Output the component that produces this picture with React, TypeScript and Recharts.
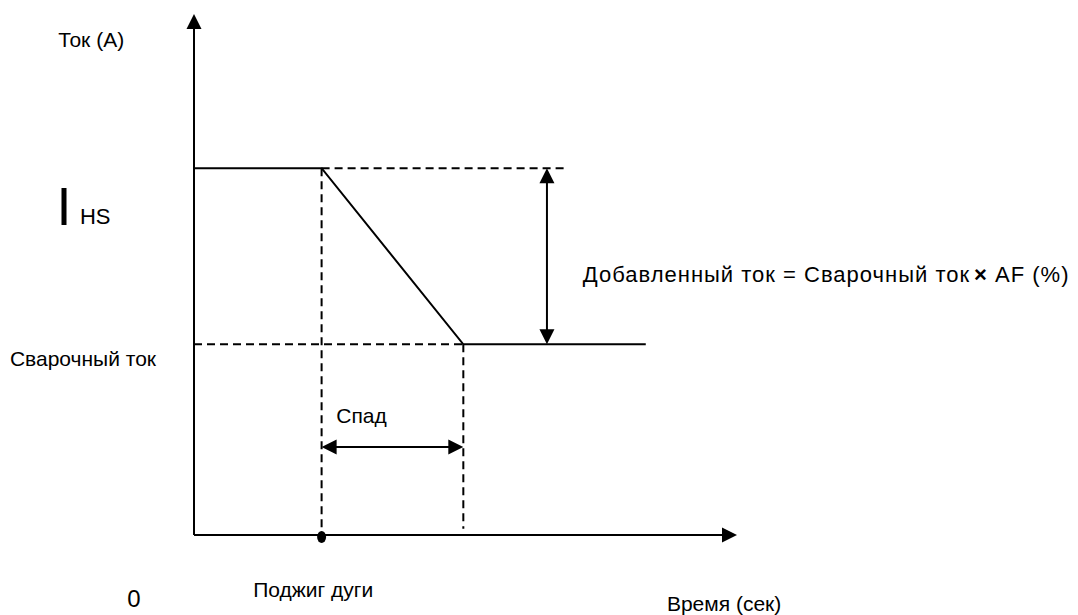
import { LineChart, Line, XAxis, YAxis, ReferenceLine, ReferenceDot } from "recharts";

// time axis and current axis both run 0..100 (arrow tips at 100)
const profileTime = [0, 23.5, 49.6, 83.2];
const profileCurrent = [70.4, 70.4, 36.6, 36.6];

const hotStart = 70.4;
const weldCurrent = 36.6;
const ignition = 23.5;
const slopeEnd = 49.6;
const hotStartGuideEnd = 68.1;
const addedArrowTime = 65.0;
const slopeArrowCurrent = 16.9;
const slopeGuideBottom = 1.2;

type Label = { text: string; t: number; c: number; size: number };

const labels: Label[] = [
  { text: "Ток (A)", t: -25.0, c: 93.7, size: 21 },
  { text: "I", t: -25.3, c: 59.5, size: 54 },
  { text: "HS", t: -21.0, c: 59.7, size: 22 },
  { text: "Сварочный ток", t: -33.9, c: 32.4, size: 21 },
  { text: "Спад", t: 26.2, c: 21.5, size: 21 },
  { text: "Поджиг дуги", t: 10.9, c: -11.9, size: 21 },
  { text: "0", t: -12.3, c: -13.8, size: 24 },
  { text: "Время (сек)", t: 87.1, c: -14.6, size: 21 },
];

const formulaLeft = "Добавленный ток = Сварочный ток";
const formulaSign = "×";
const formulaRight = " AF (%)";
const formulaAt = { t: 71.6, c: 48.6 };

const FONT = "'Liberation Sans', Arial, sans-serif";

const data = profileTime.map((t, i) => ({ t, c: profileCurrent[i] }));

function arrowShape(startHead: boolean, endHead: boolean) {
  return (props: any) => {
    const { x1, y1, x2, y2 } = props;
    const len = Math.hypot(x2 - x1, y2 - y1) || 1;
    const ux = (x2 - x1) / len;
    const uy = (y2 - y1) / len;
    const head = (tx: number, ty: number, dx: number, dy: number) => {
      const bx = tx - dx * 15;
      const by = ty - dy * 15;
      const px = -dy * 7.5;
      const py = dx * 7.5;
      return `${tx},${ty} ${bx + px},${by + py} ${bx - px},${by - py}`;
    };
    const sx = startHead ? x1 + ux * 12 : x1;
    const sy = startHead ? y1 + uy * 12 : y1;
    const ex = endHead ? x2 - ux * 12 : x2;
    const ey = endHead ? y2 - uy * 12 : y2;
    return (
      <g>
        <line x1={sx} y1={sy} x2={ex} y2={ey} stroke="#000" strokeWidth={2} />
        {endHead && <polygon points={head(x2, y2, ux, uy)} fill="#000" />}
        {startHead && <polygon points={head(x1, y1, -ux, -uy)} fill="#000" />}
      </g>
    );
  };
}

const dashedSegments: [number, number, number, number][] = [
  [ignition, hotStart, hotStartGuideEnd, hotStart],
  [0, weldCurrent, slopeEnd, weldCurrent],
  [ignition, hotStart, ignition, 0],
  [slopeEnd, weldCurrent, slopeEnd, slopeGuideBottom],
];

export default function App() {
  return (
    <div style={{ position: "absolute", left: 0, top: 0, width: 1078, height: 615, background: "#fff" }}>
      <LineChart
        width={1078}
        height={615}
        data={data}
        margin={{ top: 14, right: 341, bottom: 80, left: 194 }}
      >
        <XAxis type="number" dataKey="t" domain={[0, 100]} hide />
        <YAxis type="number" domain={[0, 100]} hide />

        {dashedSegments.map(([xa, ya, xb, yb], i) => (
          <ReferenceLine
            key={"d" + i}
            segment={[{ x: xa, y: ya }, { x: xb, y: yb }]}
            stroke="#000"
            strokeWidth={2}
            strokeDasharray="8 5"
            ifOverflow="visible"
          />
        ))}

        {/* axes with arrow tips */}
        <ReferenceLine
          segment={[{ x: 0, y: 0 }, { x: 0, y: 100 }]}
          ifOverflow="visible"
          shape={arrowShape(false, true)}
        />
        <ReferenceLine
          segment={[{ x: 0, y: 0 }, { x: 100, y: 0 }]}
          ifOverflow="visible"
          shape={arrowShape(false, true)}
        />

        {/* dimension arrows */}
        <ReferenceLine
          segment={[{ x: addedArrowTime, y: hotStart }, { x: addedArrowTime, y: weldCurrent }]}
          ifOverflow="visible"
          shape={arrowShape(true, true)}
        />
        <ReferenceLine
          segment={[{ x: ignition, y: slopeArrowCurrent }, { x: slopeEnd, y: slopeArrowCurrent }]}
          ifOverflow="visible"
          shape={arrowShape(true, true)}
        />

        <Line
          type="linear"
          dataKey="c"
          stroke="#000"
          strokeWidth={2}
          dot={false}
          activeDot={false}
          isAnimationActive={false}
        />

        <ReferenceDot
          x={ignition}
          y={0}
          r={5}
          ifOverflow="visible"
          shape={(p: any) => <ellipse cx={p.cx} cy={p.cy + 2} rx={4.5} ry={6} fill="#000" />}
        />

        {labels.map((l) => (
          <ReferenceDot
            key={l.text}
            x={l.t}
            y={l.c}
            r={0}
            ifOverflow="visible"
            shape={(p: any) => (
              <text x={p.cx} y={p.cy} fontSize={l.size} fontFamily={FONT} fill="#000">
                {l.text}
              </text>
            )}
          />
        ))}

        <ReferenceDot
          x={formulaAt.t}
          y={formulaAt.c}
          r={0}
          ifOverflow="visible"
          shape={(p: any) => (
            <text x={p.cx} y={p.cy} fontSize={22} letterSpacing={1} fontFamily={FONT} fill="#000">
              {formulaLeft}
              <tspan fontWeight="bold" dx={4}>{formulaSign}</tspan>
              {formulaRight}
            </text>
          )}
        />
      </LineChart>
    </div>
  );
}
